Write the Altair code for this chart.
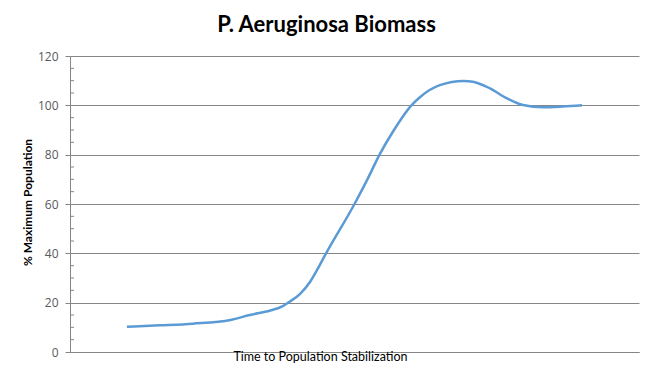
import altair as alt
import pandas as pd

time_pts = [0.0, 0.29, 0.58, 0.91, 1.08, 1.26, 1.37, 1.43, 1.52, 1.61, 1.67, 1.75,
            2.00, 2.12, 2.22, 2.34, 2.50, 2.58, 2.66, 2.75, 2.96, 3.04, 3.19, 3.34,
            3.48, 3.66, 3.83, 4.00]
biomass = [10.2, 10.8, 11.5, 13.0, 15.0, 16.8, 18.6, 20.4, 23.5, 28.5, 33.2, 40.0,
           60.0, 70.6, 80.0, 89.5, 100.0, 103.5, 106.2, 108.2, 109.9, 109.6, 106.9, 102.8,
           100.1, 99.2, 99.5, 100.0]

y_major = [0, 20, 40, 60, 80, 100, 120]
y_minor = [5, 10, 15, 25, 30, 35, 45, 50, 55, 65, 70, 75, 85, 90, 95, 105, 110, 115]

df = pd.DataFrame({"t": time_pts, "v": biomass})
minor_df = pd.DataFrame({"m": y_minor})

GRAY = "#868686"
yscale = alt.Scale(domain=[0, 120], nice=False, zero=True)
xscale = alt.Scale(domain=[-0.5, 4.5], nice=False, zero=False)

y_axis = alt.Axis(
    values=y_major, title="% Maximum Population",
    grid=True, gridColor=GRAY, gridWidth=1,
    domainColor=GRAY, tickColor=GRAY, tickSize=5,
    labelFont="Open Sans", labelFontSize=12, labelColor="#595959", labelPadding=7,
    titleFont="Lato", titleFontSize=12, titleFontWeight="bold", titleColor="#000000",
    titleX=-43, titleY=146, titleAngle=270, titleAlign="center", titleBaseline="middle",
)

line = alt.Chart(df).mark_line(
    interpolate="monotone", color="#5B9BD5", strokeWidth=2.5
).encode(
    x=alt.X("t:Q", scale=xscale, axis=alt.Axis(
        title="Time to Population  Stabilization",
        labels=False, ticks=False, grid=False,
        domainColor=GRAY, domainWidth=1,
        titleX=250, titleY=8, titleAlign="center", titleBaseline="alphabetic",
        titleFont="Lato", titleFontSize=12.5, titleFontWeight="normal", titleColor="#000000",
    )),
    y=alt.Y("v:Q", scale=yscale, axis=y_axis),
)

minor = alt.Chart(minor_df).mark_rule(color=GRAY, strokeWidth=1).encode(
    y=alt.Y("m:Q", scale=yscale, axis=y_axis),
    x=alt.value(0),
    x2=alt.value(4),
)

chart = alt.layer(line, minor).properties(
    width=569,
    height=296,
    padding={"left": 62, "top": 48, "right": 7, "bottom": 27},
    autosize=alt.AutoSizeParams(type="none"),
    title=alt.TitleParams(
        "P. Aeruginosa Biomass", font="Lato", fontSize=22, fontWeight="bold",
        color="#000000", anchor="middle", dx=-28, dy=7, offset=3, baseline="alphabetic",
    ),
).configure_view(stroke=None)

chart.save("out.html", embed_options={"renderer": "svg", "actions": False})
